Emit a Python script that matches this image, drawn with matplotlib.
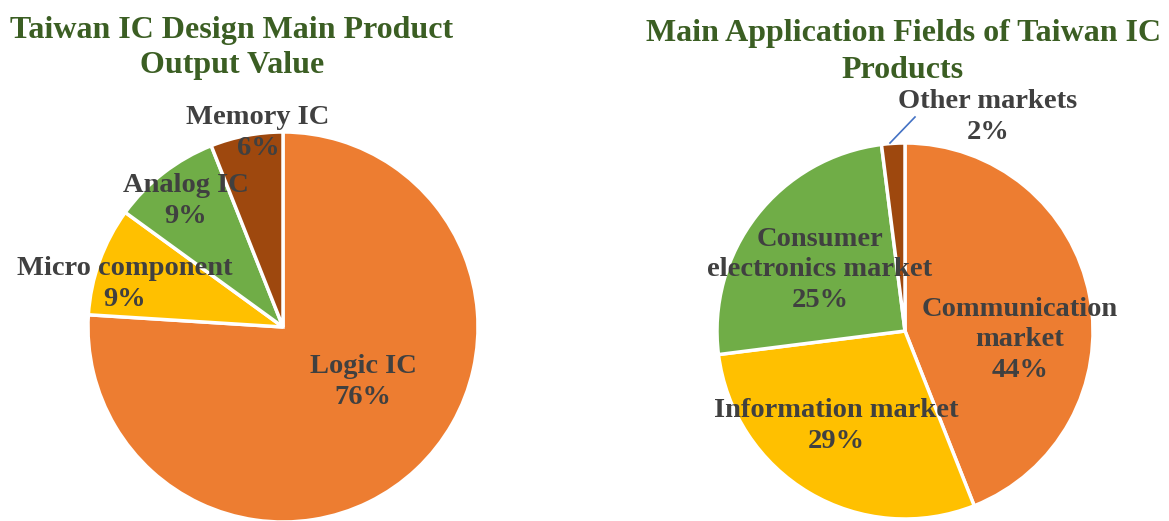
import matplotlib
matplotlib.use("Agg")
import matplotlib.pyplot as plt

W, H = 1169, 521

# ---- data ----
left_title = "Taiwan IC Design Main Product\nOutput Value"
left_labels = ["Logic IC", "Micro component", "Analog IC", "Memory IC"]
left_values = [76, 9, 9, 6]

right_title = "Main Application Fields of Taiwan IC\nProducts"
right_labels = ["Communication\nmarket", "Information market",
                "Consumer\nelectronics market", "Other markets"]
right_values = [44, 29, 25, 2]

# ---- styles ----
colors = ["#ED7D31", "#FFC000", "#70AD47", "#9E480E"]
title_color = "#3B5E23"
label_color = "#404040"
font = "Liberation Serif"

fig = plt.figure(figsize=(W / 100, H / 100), dpi=100)


def px(x, y):
    return x / W, 1 - y / H


def pie_axes(cx, cy, r, values):
    ax = fig.add_axes([(cx - r) / W, (H - cy - r) / H, 2 * r / W, 2 * r / H])
    ax.pie(values, colors=colors, startangle=90, counterclock=False,
           radius=1, wedgeprops=dict(edgecolor="white", linewidth=2.5))
    ax.set_xlim(-1, 1)
    ax.set_ylim(-1, 1)
    ax.set_aspect("equal")
    ax.axis("off")
    return ax


# left pie
axL = pie_axes(283, 327, 195, left_values)
left_pos = [(363, 382), (125, 284), (186, 201), (258, 133)]
for lab, v, (x, y) in zip(left_labels, left_values, left_pos):
    fig.text(*px(x, y), f"{lab}\n{v}%", ha="center", va="center",
             fontsize=20.5, fontweight="bold", family=font,
             color=label_color, linespacing=1.28)

# right pie
axR = pie_axes(905, 331, 188, right_values)
right_pos = [(1020, 340), (836, 426), (820, 270), (988, 117)]
for lab, v, (x, y) in zip(right_labels, right_values, right_pos):
    fig.text(*px(x, y), f"{lab}\n{v}%", ha="center", va="center",
             fontsize=20.5, fontweight="bold", family=font,
             color=label_color, linespacing=1.28)

# leader line for "Other markets"
fig.add_artist(plt.Line2D([890 / W, 915 / W], [1 - 143 / H, 1 - 117 / H],
                          color="#4472C4", linewidth=1.2))

# titles
fig.text(*px(232, 48), left_title, ha="center", va="center", fontsize=23,
         fontweight="bold", family=font, color=title_color, linespacing=1.3)
fig.text(*px(903, 52), right_title, ha="center", va="center", fontsize=23,
         fontweight="bold", family=font, color=title_color, linespacing=1.32)

fig.savefig("out.png", dpi=100, facecolor="white")
